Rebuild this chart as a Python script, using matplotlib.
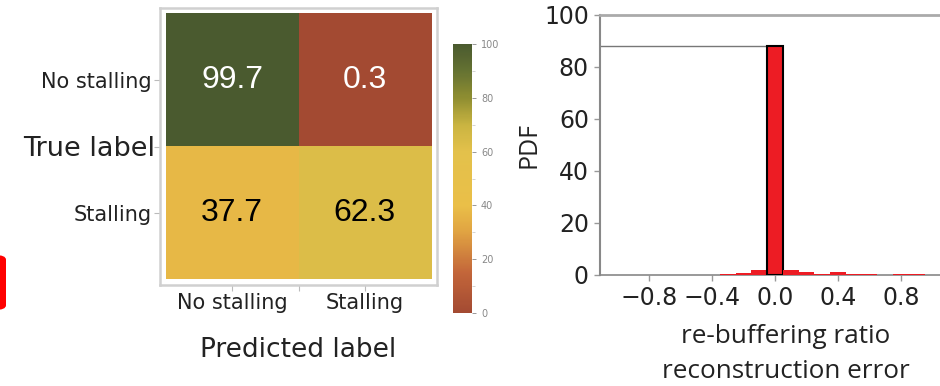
import numpy as np
import matplotlib.pyplot as plt
from matplotlib.colors import LinearSegmentedColormap
from matplotlib.patches import FancyBboxPatch

W, H = 940, 386

# confusion matrix (percent)
classes = ["No stalling", "Stalling"]
cm = np.array([[99.7, 0.3],
               [37.7, 62.3]])
cbar_ticks = [0, 20, 40, 60, 80, 100]

# reconstruction error histogram
bin_centers = [-0.3, -0.2, -0.1, 0.0, 0.1, 0.2, 0.3, 0.4, 0.5, 0.6, 0.7, 0.8, 0.9]
pdf_values = [0.3, 0.6, 1.8, 88.0, 1.8, 1.0, 0.5, 1.0, 0.5, 0.5, 0.15, 0.5, 0.2]
bin_width = 0.1
peak_value = 88.0
x_ticks = [-0.8, -0.4, 0.0, 0.4, 0.8]
y_ticks = [0, 20, 40, 60, 80, 100]

cmap = LinearSegmentedColormap.from_list("stall", [
    (0.00, "#a34a32"), (0.15, "#c3663a"), (0.30, "#e0a342"),
    (0.40, "#eabf48"), (0.60, "#e3c14b"), (0.70, "#c9b441"),
    (0.80, "#8f8e31"), (0.90, "#657232"), (1.00, "#4a5a2f")])


def px_axes(x0, y0, x1, y1):
    # pixel box (top-left origin) -> figure axes
    return fig.add_axes([x0 / W, 1 - y1 / H, (x1 - x0) / W, (y1 - y0) / H])


fig = plt.figure(figsize=(W / 100, H / 100), dpi=100)

# ---- confusion matrix ----
ax = px_axes(160, 8, 437, 285)
im = ax.imshow(cm, cmap=cmap, vmin=0, vmax=100, aspect="auto",
               extent=(-0.5, 1.5, 1.5, -0.5))
ax.set_xlim(-0.545, 1.545)
ax.set_ylim(1.545, -0.545)
for s in ax.spines.values():
    s.set_color("#d0d0d0")
    s.set_linewidth(1.8)
ax.set_xticks([0, 0.5, 1])
ax.set_xticklabels([classes[0], "", classes[1]], fontsize=15,
                   color="#222222")
ax.set_yticks([0, 0.5, 1])
ax.set_yticklabels([classes[0], "", classes[1]], fontsize=15,
                   color="#222222")
ax.tick_params(length=4, color="#bbbbbb", pad=2)
for i in range(2):
    for j in range(2):
        ax.text(j, i, f"{cm[i, j]:.1f}", ha="center", va="center",
                fontsize=23, family="Liberation Sans",
                color="white" if i == 0 else "black")
fig.text(155 / W, 1 - 149 / H, "True label", ha="right", va="center",
         fontsize=19.5, color="#222222")
fig.text(298 / W, 1 - 350 / H, "Predicted label", ha="center",
         va="center", fontsize=19, color="#222222")

cax = px_axes(453, 44, 472, 313)
cb = fig.colorbar(im, cax=cax, ticks=cbar_ticks)
cb.outline.set_visible(False)
cax.tick_params(labelsize=7, colors="#888888", length=3, width=0.6)
cax.set_yticks(np.arange(0, 101, 10), minor=True)
cax.tick_params(which="minor", length=2, color="#cccccc")

# red marker cut at the left edge
fig.patches.append(FancyBboxPatch((-14 / W, 1 - 310 / H), 20 / W, 55 / H,
                                  boxstyle="round,pad=0,rounding_size=0.012",
                                  transform=fig.transFigure,
                                  facecolor="#ff0000", edgecolor="none"))

# ---- histogram ----
x0_px = 775.0
scale = 157.5
xmin = (600 - x0_px) / scale
xmax = (970 - x0_px) / scale
hx = px_axes(600, 15, 970, 275)
edges = ["black" if v == peak_value else "none" for v in pdf_values]
hx.bar(bin_centers, pdf_values, width=bin_width, color="#ed1c24",
       edgecolor=edges, linewidth=1.5, zorder=3)
hx.hlines(peak_value, xmin, -bin_width / 2, color="#777777", lw=1,
          zorder=2)
hx.set_xlim(xmin, xmax)
hx.set_ylim(0, 100)
hx.set_xticks(x_ticks)
hx.set_xticklabels([f"{t:.1f}".replace("-", "\u2212") for t in x_ticks])
hx.set_yticks(y_ticks)
hx.tick_params(labelsize=17, colors="#222222", length=4, width=1,
               pad=4)
hx.tick_params(color="#999999")
hx.spines["top"].set_color("#aaaaaa")
hx.spines["top"].set_linewidth(2)
hx.spines["left"].set_color("#888888")
hx.spines["left"].set_linewidth(1.5)
hx.spines["bottom"].set_color("#888888")
hx.spines["bottom"].set_linewidth(1.2)
hx.spines["right"].set_visible(False)
hx.set_ylabel("PDF", fontsize=18, family="Open Sans", color="#222222",
              labelpad=2)
fig.text(786 / W, 1 - 354 / H, "re-buffering ratio\nreconstruction error",
         ha="center", va="center", fontsize=18.8, family="Open Sans",
         color="#222222", linespacing=1.5)

fig.savefig("out.png", dpi=100)
